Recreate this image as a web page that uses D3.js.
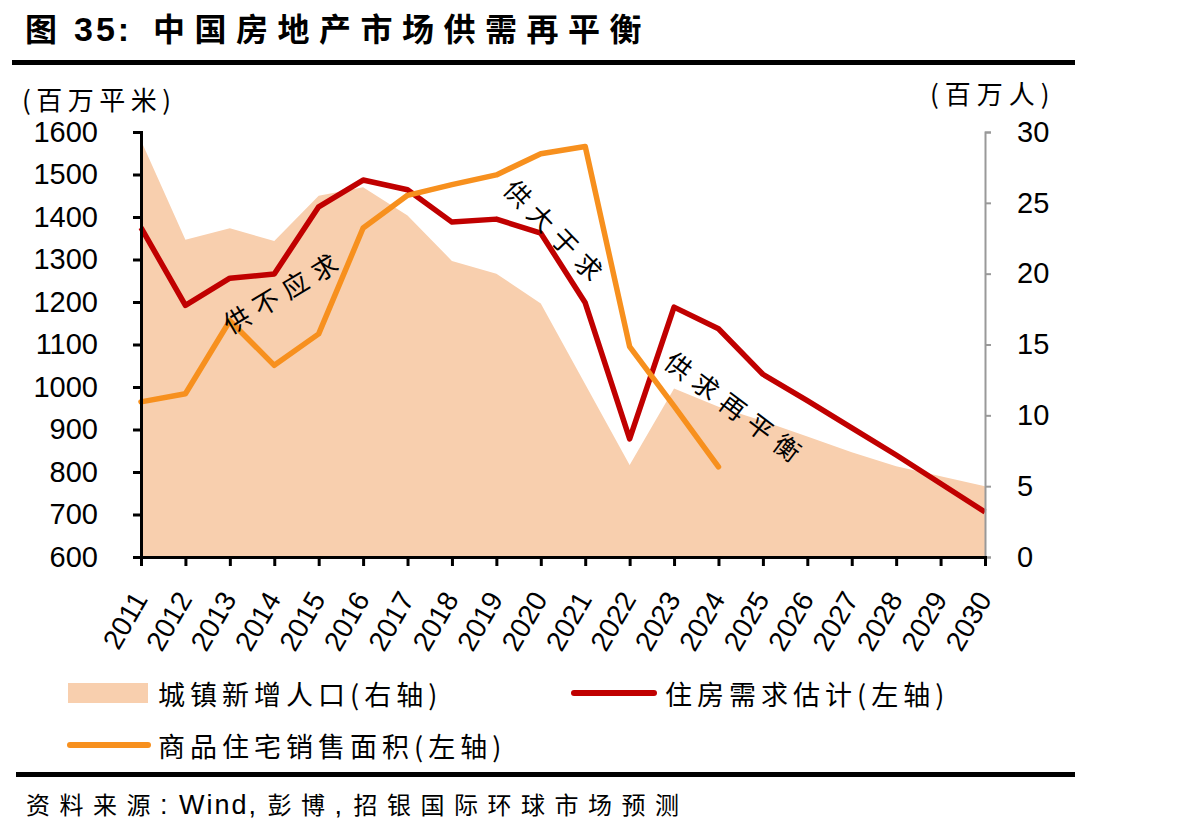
<!DOCTYPE html>
<html>
<head>
  <meta charset="UTF-8">
  <style>
    body {
      margin: 0;
      background: #fff;
      font-family: 'Liberation Sans', Arial, sans-serif;
    }
    .cjk {
      font-family: 'Noto Sans CJK SC', sans-serif;
    }
    .latin {
      font-family: 'Liberation Sans', Arial, sans-serif;
    }
    .tick text {
      font-family: 'Liberation Sans', Arial, sans-serif;
      font-size: 29px;
      fill: #000;
    }
  </style>
  <script src="https://d3js.org/d3.v7.min.js"></script>
</head>
<body>
<svg id="chart" width="1187" height="839"></svg>
<script>
// values
const years = ['2011', '2012', '2013', '2014', '2015', '2016', '2017', '2018', '2019', '2020',
  '2021', '2022', '2023', '2024', '2025', '2026', '2027', '2028', '2029', '2030'];
// 城镇新增人口 (百万人, right axis)
const urbanPop = [29.4, 22.4, 23.2, 22.3, 25.5, 26.1, 24.1, 20.9, 20.0, 17.9,
  12.2, 6.5, 11.9, 10.6, 9.6, 8.5, 7.4, 6.4, 5.7, 5.0];
// 住房需求估计 (百万平米, left axis)
const demand = [1375, 1192, 1256, 1266, 1424, 1487, 1464, 1388, 1395, 1362,
  1198, 878, 1188, 1137, 1030, 968, 904, 840, 773, 706];
// 商品住宅销售面积 (百万平米, left axis), data ends 2024
const sales = [965, 984, 1156, 1051, 1125, 1374, 1451, 1476, 1499, 1549,
  1566, 1095, 955, 812];
const leftTicks = [600, 700, 800, 900, 1000, 1100, 1200, 1300, 1400, 1500, 1600];
const rightTicks = [0, 5, 10, 15, 20, 25, 30];
// annotations: position in year index / left-axis value, rotation
const notes = [
  {text: '供不应求', i: 3.2, v: 1228, angle: -31},
  {text: '供大于求', i: 9.37, v: 1365, angle: 46},
  {text: '供求再平衡', i: 13.42, v: 951, angle: 37}
];

const RED = '#C00000';
const ORANGE = '#F7901E';
const PEACH = '#F8CFAE';

const svg = d3.select('#chart');

const plotLeft = 141, plotRight = 985, plotTop = 132, plotBottom = 557;

const x = d3.scaleLinear().domain([0, years.length - 1]).range([plotLeft, plotRight]);
const yL = d3.scaleLinear().domain([600, 1600]).range([plotBottom, plotTop]);
const yR = d3.scaleLinear().domain([0, 30]).range([plotBottom, plotTop]);

// title + rules
const title = svg.append('text')
  .attr('class', 'cjk')
  .attr('y', 41)
  .style('font-size', '32px').style('font-weight', 700);
title.append('tspan').attr('x', 25).text('图');
title.append('tspan').attr('x', 74)
  .attr('class', 'latin')
  .style('font-size', '34px')
  .style('letter-spacing', '3px')
  .text('35:');
title.append('tspan').attr('x', 153)
  .style('letter-spacing', '9.5px')
  .text('中国房地产市场供需再平衡');
svg.append('rect').attr('x', 12).attr('y', 60).attr('width', 1063).attr('height', 5).attr('fill', '#000');
svg.append('rect').attr('x', 16).attr('y', 772).attr('width', 1059).attr('height', 5).attr('fill', '#000');

// area (right axis)
const area = d3.area()
  .x((d, i) => x(i))
  .y0(yR(0))
  .y1(d => yR(d));
svg.append('path')
  .datum(urbanPop)
  .attr('d', area)
  .attr('fill', PEACH);

// lines (left axis)
const line = d3.line()
  .x((d, i) => x(i))
  .y(d => yL(d));
svg.append('path')
  .datum(demand)
  .attr('d', line)
  .attr('fill', 'none')
  .attr('stroke', RED)
  .attr('stroke-width', 5.5)
  .attr('stroke-linejoin', 'round');
svg.append('path')
  .datum(sales)
  .attr('d', line)
  .attr('fill', 'none')
  .attr('stroke', ORANGE)
  .attr('stroke-width', 5.5)
  .attr('stroke-linejoin', 'round')
  .attr('stroke-linecap', 'round');

// left axis
const gL = svg.append('g')
  .attr('transform', `translate(${plotLeft},0)`)
  .call(d3.axisLeft(yL).tickValues(leftTicks).tickSize(8).tickPadding(35).tickFormat(d3.format('d')));
gL.select('.domain').attr('stroke', '#000').attr('stroke-width', 3);
gL.selectAll('.tick line').attr('stroke', '#000').attr('stroke-width', 3);

// right axis
const gR = svg.append('g')
  .attr('transform', `translate(${plotRight},0)`)
  .call(d3.axisRight(yR).tickValues(rightTicks).tickSize(6).tickPadding(26));
gR.select('.domain').attr('stroke', '#999').attr('stroke-width', 2);
gR.selectAll('.tick line').attr('stroke', '#999').attr('stroke-width', 2);

// bottom axis
const gB = svg.append('g')
  .attr('transform', `translate(0,${plotBottom})`)
  .call(d3.axisBottom(x).tickValues(d3.range(years.length)).tickSize(9).tickFormat(i => years[i]));
gB.select('.domain').attr('stroke', '#000').attr('stroke-width', 3);
gB.selectAll('.tick line').attr('stroke', '#000').attr('stroke-width', 3);
gB.selectAll('.tick text')
  .style('font-size', '28px')
  .attr('text-anchor', 'end')
  .attr('dy', null)
  .attr('y', 0)
  .attr('transform', 'translate(7,42) rotate(-60)');

// axis units
svg.append('text').attr('class', 'cjk')
  .attr('x', 22).attr('y', 110)
  .style('font-size', '26px').style('letter-spacing', '5.5px')
  .text('(百万平米)');
svg.append('text').attr('class', 'cjk')
  .attr('x', 930).attr('y', 104)
  .style('font-size', '26px').style('letter-spacing', '6px')
  .text('(百万人)');

// annotations
svg.selectAll('.note')
  .data(notes)
  .join('text')
  .attr('class', 'note cjk')
  .attr('text-anchor', 'middle')
  .attr('dominant-baseline', 'central')
  .attr('transform', d => `translate(${x(d.i)},${yL(d.v)}) rotate(${d.angle})`)
  .style('font-size', '26px')
  .style('letter-spacing', '8px')
  .text(d => d.text);

// legend
const legend = svg.append('g').attr('class', 'cjk')
  .style('font-size', '27px').style('letter-spacing', '5px');
legend.append('rect').attr('x', 68).attr('y', 683).attr('width', 80).attr('height', 20).attr('fill', PEACH);
legend.append('text').attr('x', 158).attr('y', 693).attr('dominant-baseline', 'central').text('城镇新增人口(右轴)');
legend.append('line').attr('x1', 574).attr('x2', 654).attr('y1', 693).attr('y2', 693)
  .attr('stroke', RED).attr('stroke-width', 6).attr('stroke-linecap', 'round');
legend.append('text').attr('x', 665).attr('y', 693).attr('dominant-baseline', 'central').text('住房需求估计(左轴)');
legend.append('line').attr('x1', 70).attr('x2', 148).attr('y1', 745).attr('y2', 745)
  .attr('stroke', ORANGE).attr('stroke-width', 6).attr('stroke-linecap', 'round');
legend.append('text').attr('x', 158).attr('y', 745).attr('dominant-baseline', 'central').text('商品住宅销售面积(左轴)');

// source: CJK letter-spaced, latin parts plain
const source = svg.append('text').attr('class', 'cjk')
  .attr('x', 26).attr('y', 814)
  .style('font-size', '24px').style('letter-spacing', '9.5px');
source.append('tspan').text('资料来源');
source.append('tspan').attr('class', 'latin')
  .style('font-size', '27px').style('letter-spacing', '2px')
  .text(': Wind, ');
source.append('tspan').text('彭博');
source.append('tspan').attr('class', 'latin')
  .style('font-size', '27px').style('letter-spacing', '2px')
  .text(', ');
source.append('tspan').text('招银国际环球市场预测');
</script>
</body>
</html>
